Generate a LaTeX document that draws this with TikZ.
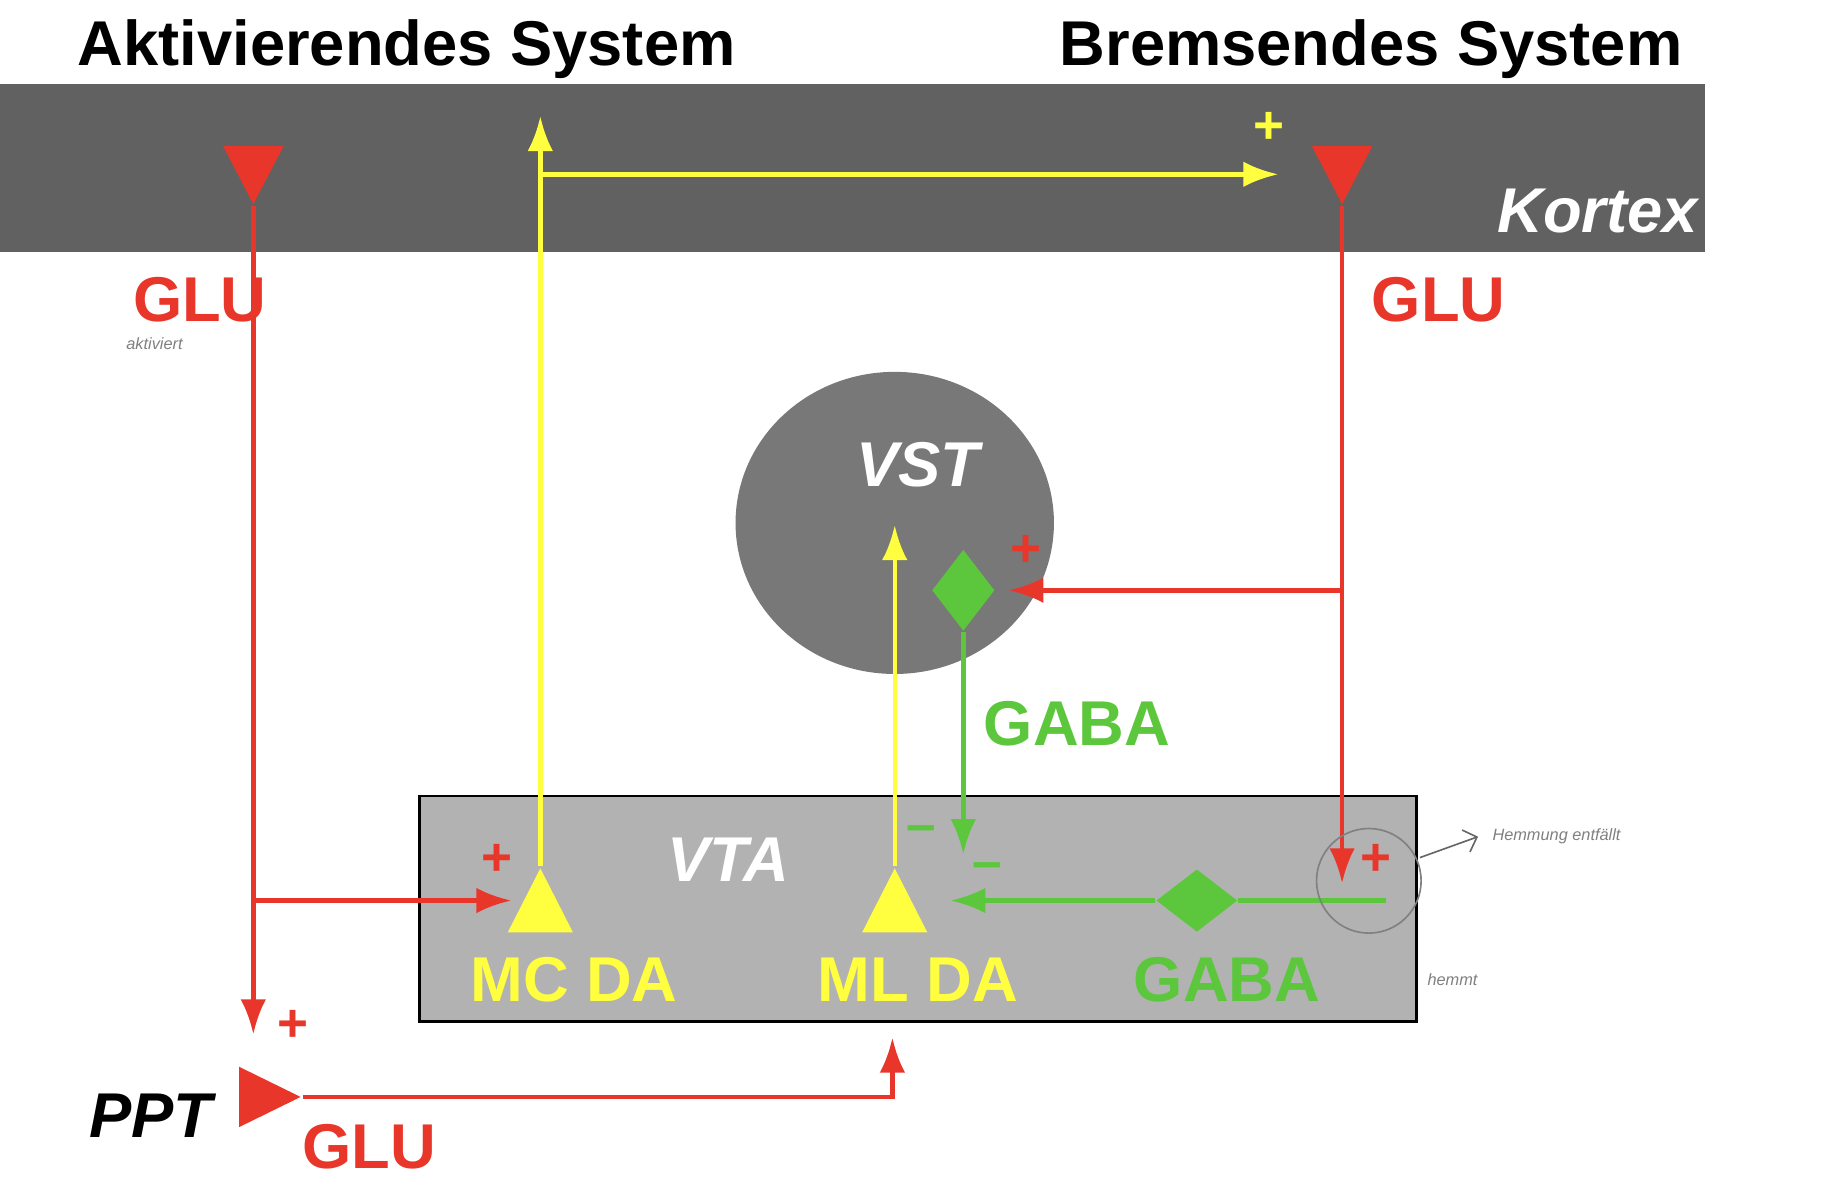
\documentclass[tikz,border=0pt]{standalone}
\usepackage{fontspec}
\setmainfont{Liberation Sans}
\usetikzlibrary{arrows.meta,shapes.geometric,positioning}
\definecolor{glured}{HTML}{E8372A}
\definecolor{dayellow}{HTML}{FFFF40}
\definecolor{gabagreen}{HTML}{5CC73C}
\tikzset{
  lbl/.style={font=\fontsize{15.5}{18}\selectfont\bfseries},
  lblit/.style={font=\fontsize{15.5}{18}\selectfont\bfseries\itshape},
  sign/.style={font=\fontsize{13}{14}\selectfont\bfseries},
  hand/.style={font=\fontsize{4}{5}\selectfont\itshape, text=gray},
  redline/.style={glured, line width=1.1pt, -{Latex[length=3mm,width=2.2mm]}},
  yelline/.style={dayellow, line width=1.1pt, -{Latex[length=3mm,width=2.2mm]}},
  grnline/.style={gabagreen, line width=1.1pt, -{Latex[length=3mm,width=2.2mm]}},
  downtri/.style={isosceles triangle, shape border rotate=-90, isosceles triangle stretches,
    minimum width=0.52cm, minimum height=0.5cm, inner sep=0pt, fill=glured},
  uptri/.style={isosceles triangle, shape border rotate=90, isosceles triangle stretches,
    minimum width=0.56cm, minimum height=0.55cm, inner sep=0pt, fill=dayellow},
  gdiamond/.style={diamond, fill=gabagreen, inner sep=0pt, aspect=#1},
}
\begin{document}
\begin{tikzpicture}
  \useasboundingbox (0,0) rectangle (15.68,-10.30);
  % Kortex band
  \fill[black!62] (0,-0.72) rectangle (14.67,-2.17);
  \node[lblit, text=white] (kortex) at (13.75,-1.82) {Kortex};
  \node[lbl] (aktsys) at (3.50,-0.42) {Aktivierendes System};
  \node[lbl] (bremsys) at (11.80,-0.42) {Bremsendes System};
  % VST and VTA
  \node[ellipse, fill=black!53, minimum width=2.74cm, minimum height=2.6cm] (vst) at (7.70,-4.50) {};
  \node[lblit, text=white] (vstlbl) at (7.90,-4.00) {VST};
  \draw[fill=black!30, line width=0.6pt] (3.61,-6.85) rectangle (12.19,-8.79);
  \node[lblit, text=white] (vta) at (6.27,-7.40) {VTA};
  % neurons
  \node[downtri, anchor=north] (glul) at (2.18,-1.25) {};
  \node[downtri, anchor=north] (glur) at (11.55,-1.25) {};
  \node[uptri, anchor=south] (mcda) at (4.65,-8.03) {};
  \node[uptri, anchor=south] (mlda) at (7.70,-8.03) {};
  \node[gdiamond=0.77, minimum width=0.54cm, minimum height=0.70cm] (vstgaba) at (8.29,-5.08) {};
  \node[gdiamond=1.3, minimum width=0.70cm, minimum height=0.54cm] (vtagaba) at (10.30,-7.75) {};
  \node[isosceles triangle, isosceles triangle stretches, minimum width=0.52cm, minimum height=0.53cm,
    inner sep=0pt, fill=glured, anchor=west] (ppttri) at (2.05,-9.44) {};
  % labels
  \node[lbl, text=glured] (glutextl) at (1.72,-2.58) {GLU};
  \node[lbl, text=glured] (glutextr) at (12.38,-2.58) {GLU};
  \node[lbl, text=glured] (glutextp) at (3.18,-9.87) {GLU};
  \node[lbl, text=gabagreen] (gabavst) at (9.27,-6.23) {GABA};
  \node[lbl, text=gabagreen] (gabavta) at (10.56,-8.43) {GABA};
  \node[lbl, text=dayellow] (mcdalbl) at (4.94,-8.43) {MC DA};
  \node[lbl, text=dayellow] (mldalbl) at (7.90,-8.43) {ML DA};
  \node[lblit] (ppt) at (1.30,-9.60) {PPT};
  \node[hand] (aktiviert) at (1.33,-2.96) {aktiviert};
  \node[hand] (hemmt) at (12.50,-8.43) {hemmt};
  \node[hand, anchor=west] (hemmung) at (12.72,-7.20) {Hemmung entfällt};
  % signs
  \node[sign, text=dayellow] (pkortex) at (10.92,-1.10) {+};
  \node[sign, text=glured] (pvst) at (8.83,-4.74) {+};
  \node[sign, text=glured] (pmc) at (4.28,-7.40) {+};
  \node[sign, text=glured] (pvta) at (11.84,-7.40) {+};
  \node[sign, text=glured] (pppt) at (2.52,-8.83) {+};
  \node[sign, text=gabagreen] (mml) at (7.93,-7.18) {--};
  \node[sign, text=gabagreen] (mgaba) at (8.50,-7.50) {--};
  % connectors
  \coordinate (cortl) at (4.65,-1.00);
  \coordinate (cortr) at (11.00,-1.50);
  \coordinate (mcin) at (4.40,-7.75);
  \coordinate (pptin) at (2.18,-8.90);
  \coordinate (vtain) at (11.55,-7.60);
  \coordinate (vstin) at (8.68,-5.08);
  \coordinate (vstup) at (7.70,-4.52);
  \coordinate (gabain) at (8.29,-7.35);
  \coordinate (mlin) at (8.18,-7.75);
  \coordinate (gabaend) at (11.93,-7.75);
  \coordinate (mlbase) at (7.68,-8.93);
  \draw[yelline] (mcda.north) -- (cortl);
  \draw[yelline] (4.65,-1.50) -- (cortr);
  \draw[yelline] (mlda.north) -- (vstup);
  \draw[redline] (glul.south) -- (pptin);
  \draw[redline] (2.18,-7.75) -- (mcin);
  \draw[redline] (glur.south) -- (vtain);
  \draw[redline] (11.55,-5.08) -- (vstin);
  \draw[redline] (ppttri.east) -| (mlbase);
  \draw[grnline] (vstgaba.south) -- (gabain);
  \draw[grnline, -] (gabaend) -- (vtagaba.east);
  \draw[grnline] (vtagaba.west) -- (mlin);
  \node[circle, draw=black!50, thin, minimum size=0.9cm] (loop) at (11.78,-7.58) {};
  \draw[black!60, thin, -{Straight Barb[length=1mm]}] (12.22,-7.38) -- (hemmung.west);
\end{tikzpicture}
\end{document}
